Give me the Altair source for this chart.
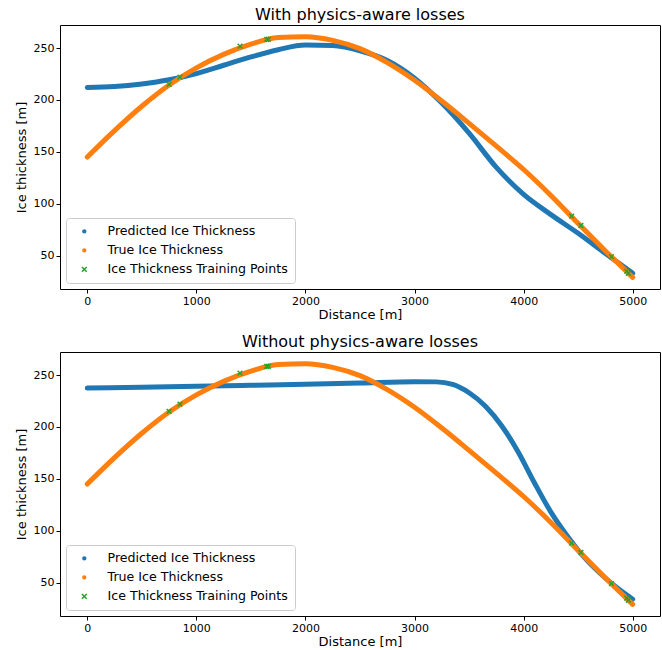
import altair as alt
import pandas as pd

# ---------------- data ----------------
true_d = [0, 250, 500, 750, 1000, 1250, 1500, 1750, 2000, 2250, 2500, 2750,
          3000, 3250, 3500, 3750, 4000, 4250, 4500, 4750, 5000]
true_v = [145, 170.5, 194, 214.5, 231, 244, 253.8, 260.2, 261, 257.5, 249.5, 236,
          219, 199, 177.5, 155.5, 133, 108, 81, 54.5, 29]

pred_top_d = [0, 250, 500, 750, 1000, 1250, 1500, 1750, 2000, 2250, 2500, 2750,
              3000, 3250, 3500, 3750, 4000, 4250, 4500, 4750, 5000]
pred_top_v = [212, 213, 215.5, 219.5, 225.5, 233.5, 241.5, 248.5, 253, 252.5, 247.5, 238,
              221, 197, 168, 135, 109, 89.5, 71.5, 52, 33]

pred_bot_d = [0, 500, 1000, 1500, 2000, 2500, 3000, 3200, 3350, 3500, 3650, 3800,
              3950, 4100, 4250, 4400, 4550, 4700, 4850, 5000]
pred_bot_v = [237.5, 238.3, 239.2, 240.2, 241.2, 242.3, 243.6, 243.5, 241, 233, 220, 201,
              176, 146, 118, 95, 75, 59, 45.5, 34]

train_d = [750, 850, 1400, 1645, 1660, 4440, 4525, 4805, 4945, 4960]
train_v = [215, 222, 252, 258.5, 258.5, 88, 79, 49, 35, 33]

SERIES = ["Predicted Ice Thickness", "True Ice Thickness", "Ice Thickness Training Points"]
COLORS = ["#1f77b4", "#ff7f0e", "#2ca02c"]

FONT = "DejaVu Sans"
DOT = "M-0.45,0A0.45,0.45 0 1,0 0.45,0A0.45,0.45 0 1,0 -0.45,0Z"
CROSS = "M-0.75,-0.75L0.75,0.75M-0.75,0.75L0.75,-0.75"


def panel(title, pd_d, pd_v):
    pred = pd.DataFrame({"d": pd_d, "v": pd_v})
    true = pd.DataFrame({"d": true_d, "v": true_v})
    train = pd.DataFrame({"d": train_d, "v": train_v, "s": SERIES[2]})

    x = alt.X("d:Q", scale=alt.Scale(domain=[-250, 5250], nice=False, zero=False),
              axis=alt.Axis(values=[0, 1000, 2000, 3000, 4000, 5000], format="d",
                            title="Distance [m]", titlePadding=2))
    y = alt.Y("v:Q", scale=alt.Scale(domain=[17.8, 272.3], nice=False, zero=False),
              axis=alt.Axis(values=[50, 100, 150, 200, 250], format="d",
                            title="Ice thickness [m]", titlePadding=5))

    legend = alt.Legend(title=None, orient="bottom-left", offset=6, padding=7,
                        rowPadding=6, symbolSize=40, symbolOffset=5, labelOffset=17,
                        labelFontSize=12.6, labelFont=FONT, labelColor="black",
                        labelLimit=400, symbolStrokeWidth=1.5,
                        fillColor="rgba(255,255,255,0.8)", strokeColor="#cccccc",
                        cornerRadius=3)

    l_pred = alt.Chart(pred).mark_line(strokeWidth=5, strokeCap="round",
                                       interpolate="monotone").encode(
        x=x, y=y, stroke=alt.value(COLORS[0]))
    l_true = alt.Chart(true).mark_line(strokeWidth=5, strokeCap="round",
                                       interpolate="monotone").encode(
        x=x, y=y, stroke=alt.value(COLORS[1]))
    pts = alt.Chart(train).mark_point(filled=True, size=40, strokeWidth=1.5, opacity=1).encode(
        x=x, y=y,
        fill=alt.Fill("s:N", scale=alt.Scale(domain=SERIES, range=COLORS), legend=legend),
        stroke=alt.Stroke("s:N", scale=alt.Scale(domain=SERIES, range=COLORS), legend=legend),
        shape=alt.Shape("s:N", scale=alt.Scale(domain=SERIES, range=[DOT, DOT, CROSS]),
                        legend=legend),
    )
    return alt.layer(l_pred, l_true, pts).properties(
        width=600, height=264,
        title=alt.TitleParams(title, frame="group", anchor="middle"))


top = panel("With physics-aware losses", pred_top_d, pred_top_v)
bottom = panel("Without physics-aware losses", pred_bot_d, pred_bot_v)

chart = alt.vconcat(top, bottom, spacing=11).resolve_scale(
    fill="independent", stroke="independent", shape="independent"
).properties(
    padding={"left": 14, "top": 6, "right": 0, "bottom": 0}
).configure_view(stroke="black", strokeWidth=1).configure_axis(
    labelFont=FONT, titleFont=FONT, labelFontSize=11, titleFontSize=13,
    titleFontWeight="normal", labelColor="black", titleColor="black",
    tickColor="black", tickSize=4, labelPadding=2,
    domain=False, grid=False
).configure_title(font=FONT, fontSize=16, fontWeight="normal", color="black", offset=2)

chart.save("out.html", embed_options={"renderer": "svg", "actions": False})
